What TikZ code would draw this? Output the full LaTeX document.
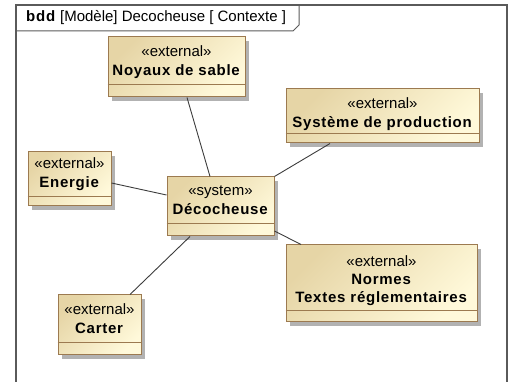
\documentclass[tikz,border=0pt]{standalone}
\usepackage{fontspec}
\setmainfont{Liberation Sans}[BoldFeatures={LetterSpace=5}]
\usetikzlibrary{positioning,shadows}
\definecolor{blocktop}{HTML}{E6D5A6}
\definecolor{blockbot}{HTML}{FFF9DA}
\definecolor{blockline}{HTML}{9C7A50}
\definecolor{frameline}{HTML}{5A5A5A}
\definecolor{linkline}{HTML}{3C3C3C}

\begin{document}
\begin{tikzpicture}[x=1pt,y=-1pt,
	block/.style={rectangle,draw=blockline,line width=1pt,top color=blocktop,bottom color=blockbot,shading angle=45,drop shadow={shadow xshift=4pt,shadow yshift=-4pt,fill=black!30,opacity=1},inner sep=0pt},
	blocktext/.style={align=center,inner sep=0pt,font=\fontsize{15}{19}\selectfont},
	link/.style={draw=linkline,line width=0.9pt}]
	
	\useasboundingbox (0,0) rectangle (512,382);
	
	% frame and tab
	\draw[frameline,line width=1.5pt] (16,392) -- (16,5) -- (507,5) -- (507,392);
	\draw[frameline,line width=1pt] (16,31) -- (293,31) -- (299,25) -- (299,5);
	\node[anchor=west,inner sep=0pt,font=\fontsize{15}{18}\selectfont] (title) at (26,18) {\textbf{bdd} [Modèle] Decocheuse [ Contexte ]};
	
	\node[block,minimum width=137,minimum height=60] (noyaux) at (176.5,67) {};
	\node[block,minimum width=193,minimum height=54] (prod) at (382.5,116) {};
	\node[block,minimum width=83,minimum height=54] (energie) at (69.5,179) {};
	\node[block,minimum width=107,minimum height=59] (deco) at (220.5,206.5) {};
	\node[block,minimum width=191,minimum height=77] (normes) at (381.5,283.5) {};
	\node[block,minimum width=83,minimum height=60] (carter) at (99.5,325) {};
	
	\node[blocktext,below=9pt of noyaux.north] (noyaux-txt) {«external»\\\textbf{Noyaux de sable}};
	\node[blocktext,below=9pt of prod.north] (prod-txt) {«external»\\\textbf{Système de production}};
	\node[blocktext,below=6pt of energie.north] (energie-txt) {«external»\\\textbf{Energie}};
	\node[blocktext,below=9pt of deco.north] (deco-txt) {«system»\\\textbf{Décocheuse}};
	\node[blocktext,below=11pt of normes.north,font=\fontsize{15}{18}\selectfont] (normes-txt) {«external»\\\textbf{Normes}\\\textbf{Textes réglementaires}};
	\node[blocktext,below=9pt of carter.north] (carter-txt) {«external»\\\textbf{Carter}};
	
	\foreach \n/\c in {noyaux/13,prod/10,energie/10,deco/13,normes/12,carter/13}
		\draw[blockline,line width=1pt] ([yshift=\c pt]\n.south west) -- ([yshift=\c pt]\n.south east);
	
	\draw[link] ([xshift=10.5pt]noyaux.south) -- ([xshift=-10.5pt]deco.north);
	\draw[link] ([xshift=-52.5pt]prod.south) -- (deco.north east);
	\draw[link] ([yshift=-4pt]energie.east) -- ([yshift=11.5pt]deco.west);
	\draw[link] ([yshift=-24.5pt]deco.east) -- ([xshift=-80.5pt]normes.north);
	\draw[link] ([xshift=-30.5pt]deco.south) -- ([xshift=30.5pt]carter.north);
\end{tikzpicture}
\end{document}
